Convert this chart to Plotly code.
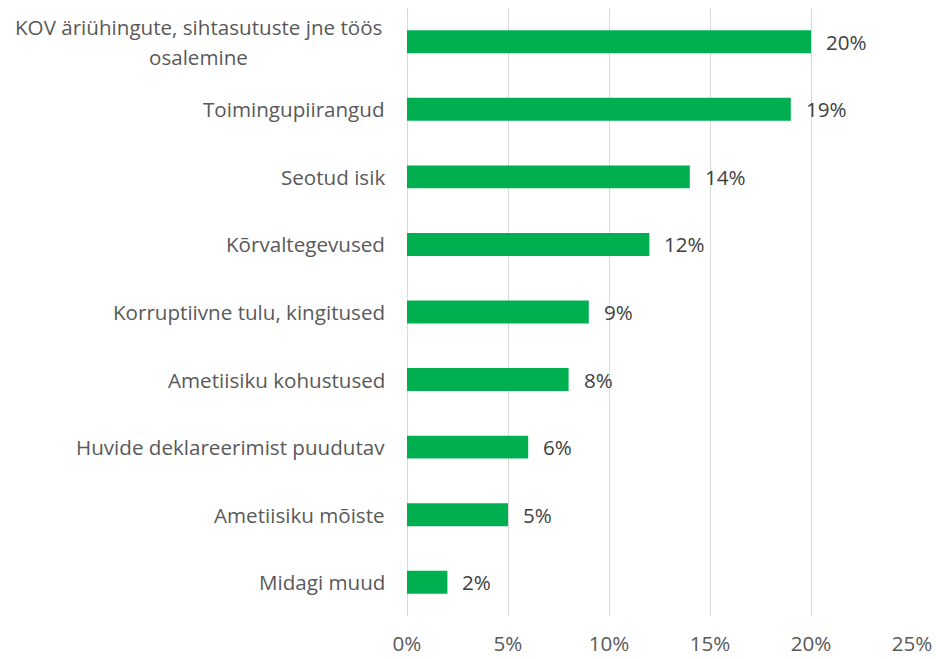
import plotly.graph_objects as go

categories = [
    "KOV äriühingute, sihtasutuste jne töös<br>osalemine",
    "Toimingupiirangud",
    "Seotud isik",
    "Kõrvaltegevused",
    "Korruptiivne tulu, kingitused",
    "Ametiisiku kohustused",
    "Huvide deklareerimist puudutav",
    "Ametiisiku mõiste",
    "Midagi muud",
]
values = [20, 19, 14, 12, 9, 8, 6, 5, 2]
x_ticks = [0, 5, 10, 15, 20, 25]
x_tick_labels = ["0%", "5%", "10%", "15%", "20%", "25%"]

FONT = "'Open Sans', Carlito, Calibri, sans-serif"
FS = 20.6
LINE_H = 30

fig = go.Figure(
    go.Bar(
        x=values,
        y=categories,
        orientation="h",
        marker=dict(color="#00B050", line=dict(width=0)),
        hoverinfo="skip",
    )
)

annotations = []
for c, v in zip(categories, values):
    annotations.append(dict(
        x=v, y=c, xref="x", yref="y", text=f"{v}%", showarrow=False,
        xanchor="left", xshift=13, font=dict(family=FONT, size=FS, color="#404040"),
    ))
    lines = c.split("<br>")
    n = len(lines)
    for i, line in enumerate(lines):
        annotations.append(dict(
            x=0, y=c, xref="paper", yref="y", text=line, showarrow=False,
            xanchor="center" if n > 1 else "right",
            xshift=-20 - (189 if n > 1 else 0),
            yshift=((n - 1) / 2 - i) * LINE_H,
            font=dict(family=FONT, size=FS, color="#595959"),
        ))

fig.update_layout(
    width=936, height=659,
    margin=dict(l=407, r=24, t=8, b=43, autoexpand=False),
    paper_bgcolor="white", plot_bgcolor="white",
    bargap=0.66,
    showlegend=False,
    annotations=annotations,
    xaxis=dict(
        range=[0, 25], tickvals=x_ticks, ticktext=x_tick_labels,
        showgrid=True, gridcolor="#D9D9D9", gridwidth=1,
        zeroline=True, zerolinecolor="#D9D9D9", zerolinewidth=1,
        showline=False, ticks="", ticklabelstandoff=13,
        tickfont=dict(family=FONT, size=FS, color="#595959"),
        automargin=False, fixedrange=True,
    ),
    yaxis=dict(
        autorange="reversed", showticklabels=False, showgrid=False,
        zeroline=False, showline=False, ticks="", automargin=False,
        fixedrange=True,
    ),
)

fig.write_html(
    "out.html",
    config={"displayModeBar": False},
    post_script="document.body.style.margin='0';",
)
